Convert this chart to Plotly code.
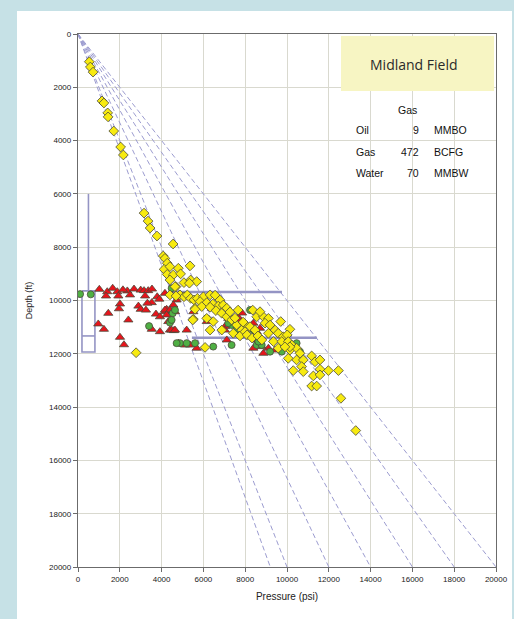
import plotly.graph_objects as go

# ---- Pressure-depth measurements (psi, ft) ----
gas_psi = [540, 590, 720, 1150, 1240, 1420, 1440, 1710, 2040, 2170, 3160, 3350, 3450, 3780, 4550,
           4080, 4160, 4270, 4120, 4400, 4800, 5360, 4270, 4560, 4910, 4400, 5070, 5390, 5680, 4690,
           5330, 4880, 5070, 5230, 5390, 5550, 5710, 6000, 6320, 6560, 6790, 5840, 6160, 6450, 6710,
           6950, 7120, 5600, 5920, 6320, 6600, 6880, 7120, 5520, 6160, 6470, 7350, 7590, 7990, 8230,
           7830, 8470, 6320, 6880, 7430, 7750, 6080, 7990, 4640, 4400, 4690, 2780, 5600, 5490,
           8360, 8550, 8870, 9110, 9700, 8950, 9190, 9430, 10140, 9580, 9110, 9820, 10010, 9350, 9750,
           10060, 10230, 9580, 10140, 10460, 10620, 10060, 10460, 10780, 11180, 11340, 11580, 10700,
           10300, 10780, 11580, 11980, 12460, 11260, 11580, 8710, 10140, 9900, 11180, 11420, 12580,
           13290, 7510, 7900, 8090, 8330, 8610, 8800, 7270, 7660]
gas_depth = [1040, 1240, 1430, 2510, 2590, 2960, 3110, 3640, 4240, 4540, 6720, 7020, 7280, 7580, 7880,
             8330, 8420, 8600, 8830, 8730, 8790, 8700, 9020, 9040, 9000, 9230, 9330, 9230, 9290, 9480,
             9350, 9790, 9860, 9790, 9920, 9980, 9920, 9860, 9790, 9800, 9980, 10040, 10080, 10130, 10210,
             10170, 10290, 10290, 10230, 10250, 10380, 10480, 10610, 10700, 10670, 10790, 10730, 10920, 10890, 10980,
             11110, 11110, 11110, 11110, 11230, 11330, 11760, 11170, 9480, 9790, 9830, 11960, 10330, 10730,
             10360, 10610, 10610, 10670, 10790, 10850, 10920, 11110, 11080, 11230, 11230, 11360, 11290, 11540, 11540,
             11540, 11670, 11790, 11860, 11790, 11980, 12170, 12230, 12230, 12080, 12300, 12230, 12480,
             12630, 12670, 12580, 12630, 12630, 12830, 12790, 10420, 11740, 11740, 13210, 13210, 13670,
             14880, 10660, 10810, 11290, 11410, 11330, 11480, 10430, 10360]

water_psi = [1020, 1400, 1660, 1880, 1340, 1930, 2360, 2680, 3000, 3160, 3360, 3790, 3890, 3530, 3320,
             2890, 2010, 1960, 1450, 3000, 3250, 3730, 3920, 4160, 4240, 4480, 970, 1240, 2410, 2010,
             2200, 3530, 3920, 4400, 4590, 4320, 4160, 2150, 2490, 3540, 3210,
             4480, 4720, 4560, 4160, 4400, 4640, 4240, 5520, 6000, 6400, 6160, 7030, 7190, 7670, 8390,
             4480, 4640, 5200, 4800, 5120, 5360, 5680, 7120, 8390, 8550,
             8710, 8550, 8870, 9430, 9110, 8790, 7030, 7660, 7850]
water_depth = [9580, 9670, 9540, 9670, 9830, 9830, 9640, 9570, 9610, 9630, 9630, 9860, 9950, 10080, 10100,
               10210, 10130, 10310, 10480, 10330, 10360, 10510, 10610, 10420, 10330, 10420, 10880, 11080, 10730, 11380,
               11660, 11080, 11170, 11110, 11130, 10790, 9730, 9600, 9790, 9570, 9830,
               9790, 9980, 10170, 10360, 10360, 10420, 10540, 10420, 10170, 10290, 10790, 10980, 10670, 10630, 10850,
               11110, 11110, 11110, 11600, 11670, 11670, 11790, 11480, 11790, 11480,
               11040, 11170, 11980, 11860, 11790, 11730, 11110, 10730, 10470]

oil_psi = [100, 610, 3400, 4400, 4530, 4880, 4480, 4480, 4720, 5200, 5600, 6470, 7350, 8230, 7350,
           7590, 8390, 8550, 8790, 9190, 10460, 10620, 9750, 8630, 6160, 7190, 4640]
oil_depth = [9760, 9770, 10960, 10830, 10480, 11600, 9540, 10730, 11600, 11600, 11600, 11730, 11670, 10360, 10920,
             11110, 11110, 11670, 11670, 11920, 11600, 11920, 11920, 11540, 10670, 10850, 10360]

# Pressure gradients (psi/ft) of the reference lines from the surface
gradients = [0.46, 0.5, 0.6, 0.7, 0.8, 0.9, 1.0]
max_depth = 20000

# Range bar on the left (psi position, whisker top, box top, median, box bottom, box half-width)
bar_psi = 500
bar_whisker_top = 6000
bar_q1 = 9640
bar_median = 11330
bar_q3 = 11930
bar_halfwidth = 310

# Horizontal markers: (depth, psi start, psi end)
hlines = [(9680, 4400, 9760), (11400, 5450, 11430)]

# Production summary
summary_rows = [("Oil", "9", "MMBO"), ("Gas", "472", "BCFG"), ("Water", "70", "MMBW")]

W, H = 514, 619
L, R, T, B = 78, 18, 34, 52


def px_x(x):
    return (x - L) / (W - L - R)


def px_y(y):
    return (H - B - y) / (H - T - B)


fig = go.Figure()

line_col = "#9c9cd0"
for g in gradients:
    fig.add_trace(go.Scatter(x=[0, g * max_depth], y=[0, max_depth], mode="lines",
                             line=dict(color=line_col, width=1, dash="5px,3px"),
                             hoverinfo="skip", showlegend=False))

bar_col = "#9494c4"
fig.add_trace(go.Scatter(
    x=[bar_psi, bar_psi, None,
       bar_psi - bar_halfwidth, bar_psi + bar_halfwidth, bar_psi + bar_halfwidth,
       bar_psi - bar_halfwidth, bar_psi - bar_halfwidth, None,
       bar_psi - bar_halfwidth, bar_psi + bar_halfwidth],
    y=[bar_whisker_top, bar_q1, None,
       bar_q1, bar_q1, bar_q3, bar_q3, bar_q1, None,
       bar_median, bar_median],
    mode="lines", line=dict(color=bar_col, width=1.6), hoverinfo="skip", showlegend=False))

for d, p0, p1 in hlines:
    fig.add_trace(go.Scatter(x=[p0, p1], y=[d, d], mode="lines",
                             line=dict(color=bar_col, width=2.5),
                             hoverinfo="skip", showlegend=False))

outline = dict(color="#4a4a3a", width=0.8)
fig.add_trace(go.Scatter(x=water_psi, y=water_depth, mode="markers", name="Water",
                         marker=dict(symbol="triangle-up", size=8, color="#e8141c", line=outline)))
fig.add_trace(go.Scatter(x=oil_psi, y=oil_depth, mode="markers", name="Oil",
                         marker=dict(symbol="circle", size=7, color="#4fb044", line=outline)))
fig.add_trace(go.Scatter(x=gas_psi, y=gas_depth, mode="markers", name="Gas",
                         marker=dict(symbol="diamond", size=7.5, color="#f7ea10", line=outline)))

# White panel behind the chart
fig.add_shape(type="rect", xref="paper", yref="paper", layer="below",
              x0=px_x(17), x1=px_x(512), y0=px_y(640), y1=px_y(11),
              fillcolor="white", line=dict(width=0))

# Title box
fig.add_shape(type="rect", xref="paper", yref="paper",
              x0=px_x(341), x1=px_x(494), y0=px_y(91), y1=px_y(36),
              fillcolor="#f7f5c3", line=dict(width=0))

anns = [dict(x=px_x(414), y=px_y(64), text="Midland Field", xanchor="center", yanchor="middle",
             font=dict(family="Open Sans", size=14, color="#2a2a2a")),
        dict(x=px_x(407), y=px_y(110), text="Gas", xanchor="center", yanchor="middle",
             font=dict(family="Liberation Sans", size=10.5, color="#111"))]
row_y = [130, 152, 173]
for (lab, val, unit), y in zip(summary_rows, row_y):
    anns.append(dict(x=px_x(354), y=px_y(y), text=lab, xanchor="left", yanchor="middle",
                     font=dict(family="Liberation Sans", size=10.5, color="#111")))
    anns.append(dict(x=px_x(421), y=px_y(y), text=val, xanchor="right", yanchor="middle",
                     font=dict(family="Liberation Sans", size=10.5, color="#111")))
    anns.append(dict(x=px_x(432), y=px_y(y), text=unit, xanchor="left", yanchor="middle",
                     font=dict(family="Liberation Sans", size=10.5, color="#111")))
for a in anns:
    a.update(xref="paper", yref="paper", showarrow=False)

axis_common = dict(showgrid=True, gridcolor="#d9d9cf", gridwidth=1.2,
                   showline=True, linecolor="#6b6b6b", linewidth=1.3, mirror=True,
                   ticks="outside", ticklen=4, tickcolor="#6b6b6b",
                   tickfont=dict(family="Liberation Sans", size=8, color="#222"),
                   tickformat="d", zeroline=False, dtick=2000, automargin=False)

fig.update_layout(
    width=W, height=H,
    margin=dict(l=L, r=R, t=T, b=B),
    paper_bgcolor="#c6e1e6", plot_bgcolor="white",
    showlegend=False,
    annotations=anns,
    xaxis=dict(range=[0, 20000], tick0=0,
               title=dict(text="Pressure (psi)", standoff=10,
                          font=dict(family="Liberation Sans", size=10, color="#222")),
               **axis_common),
    yaxis=dict(range=[20000, 0], tick0=0,
               title=dict(text="Depth (ft)", standoff=14,
                          font=dict(family="Liberation Sans", size=9, color="#222")),
               **axis_common),
)

fig.write_html("out.html")
